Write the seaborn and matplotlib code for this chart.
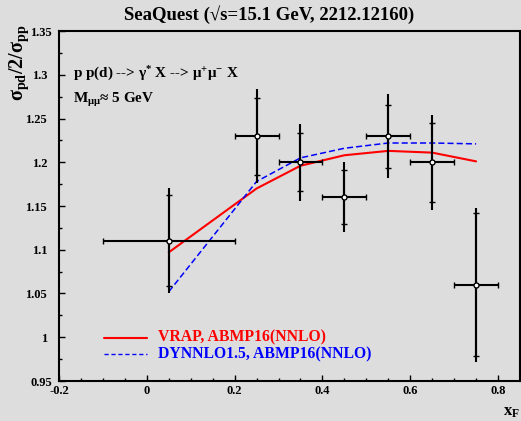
import numpy as np
import pandas as pd
import matplotlib
matplotlib.use("Agg")
import matplotlib.pyplot as plt
import matplotlib.transforms as mtransforms
from matplotlib.ticker import MultipleLocator
import seaborn as sns

# ---- data ----
xF = [0.05, 0.25, 0.35, 0.45, 0.55, 0.65, 0.75]
ratio = [1.11, 1.23, 1.20, 1.16, 1.23, 1.20, 1.06]
stat_err = [0.052, 0.044, 0.033, 0.031, 0.036, 0.045, 0.082]
tot_err = [0.060, 0.054, 0.044, 0.040, 0.048, 0.054, 0.088]
xerr_lo = [0.15, 0.05, 0.05, 0.05, 0.05, 0.05, 0.05]
xerr_hi = [0.15, 0.05, 0.05, 0.05, 0.05, 0.05, 0.05]

vrap = [1.097, 1.170, 1.196, 1.208, 1.213, 1.211, 1.201]
dynnlo = [1.052, 1.178, 1.205, 1.216, 1.222, 1.222, 1.221]

x_ticks = [-0.2, 0.0, 0.2, 0.4, 0.6, 0.8]
x_ticklabels = ["-0.2", "0", "0.2", "0.4", "0.6", "0.8"]
y_ticks = [0.95, 1.0, 1.05, 1.1, 1.15, 1.2, 1.25, 1.3, 1.35]
y_ticklabels = ["0.95", "1", "1.05", "1.1", "1.15", "1.2", "1.25", "1.3", "1.35"]

title = "SeaQuest (\u221as=15.1 GeV, 2212.12160)"
legend_labels = ["VRAP, ABMP16(NNLO)", "DYNNLO1.5, ABMP16(NNLO)"]

BG = "#dddddd"
sns.set_style("ticks", {"axes.facecolor": BG, "figure.facecolor": BG,
                        "text.color": "black", "xtick.color": "black",
                        "ytick.color": "black", "axes.labelcolor": "black",
                        "axes.edgecolor": "black"})
plt.rcParams["font.family"] = ["Liberation Serif", "DejaVu Serif"]
plt.rcParams["font.weight"] = "bold"
plt.rcParams["text.color"] = "black"
plt.rcParams["mathtext.fontset"] = "custom"
plt.rcParams["mathtext.rm"] = "Liberation Serif:bold"
plt.rcParams["mathtext.bf"] = "Liberation Serif:bold"
plt.rcParams["mathtext.it"] = "Liberation Serif:bold:italic"

fig = plt.figure(figsize=(5.21, 4.21), dpi=100)
fig.patch.set_facecolor(BG)
ax = fig.add_axes([59 / 521, 1 - 381 / 421, 461 / 521, 350 / 421])
ax.set_facecolor(BG)

df = pd.DataFrame({"xF": xF, "vrap": vrap, "dynnlo": dynnlo})
sns.lineplot(data=df, x="xF", y="vrap", ax=ax, color="red", linewidth=1.5,
             legend=False)
sns.lineplot(data=df, x="xF", y="dynnlo", ax=ax, color="blue", linewidth=1.1,
             linestyle=(0, (4, 2)), legend=False)

# data points: full vertical extent (total error)
ax.errorbar(xF, ratio, yerr=tot_err, fmt="none", ecolor="black",
            elinewidth=1.5, capsize=0, zorder=5)
# stat error ticks + horizontal bins
ax.errorbar(xF, ratio, yerr=stat_err, xerr=[xerr_lo, xerr_hi], fmt="none",
            ecolor="black", elinewidth=1.5, capsize=2.2, capthick=1.0, zorder=5)
ax.plot(xF, ratio, "o", ms=3.6, mfc="white", mec="black", mew=1.0, zorder=6)

ax.set_xlim(-0.2, 0.85)
ax.set_ylim(0.95, 1.35)
ax.set_xticks(x_ticks)
ax.set_xticklabels(x_ticklabels)
ax.set_yticks(y_ticks)
ax.set_yticklabels(y_ticklabels)
ax.xaxis.set_minor_locator(MultipleLocator(0.05))
ax.yaxis.set_minor_locator(MultipleLocator(0.025))
ax.tick_params(which="both", direction="in", top=False, right=False,
               labelsize=9, width=1.0, color="black", labelcolor="black")
ax.tick_params(axis="x", pad=3)
ax.tick_params(axis="y", pad=8.5)
ax.tick_params(which="major", length=4)
ax.tick_params(which="minor", length=2.2)
for lab in ax.get_xticklabels() + ax.get_yticklabels():
    lab.set_fontweight("bold")
# ROOT shifts the extreme y labels towards the axis
ylabs = ax.get_yticklabels()
shift = mtransforms.ScaledTranslation(5 / 100, 0, fig.dpi_scale_trans)
for lab in (ylabs[0], ylabs[-1]):
    lab.set_transform(lab.get_transform() + shift)
for s in ax.spines.values():
    s.set_visible(True)
    s.set_linewidth(1.5)
    s.set_color("black")
ax.set_xlabel("")
ax.set_ylabel("")

fig.text(269 / 521, 1 - 15 / 421, title, ha="center", va="center",
         fontsize=13.5, fontweight="bold", color="black")
fig.text(19 / 521, 1 - 24 / 421, r"$\mathrm{σ_{pd}/2/σ_{pp}}$", rotation=90,
         ha="center", va="top", fontsize=14.5, fontweight="bold", color="black")
fig.text(511 / 521, 1 - 412 / 421, r"$\mathrm{x_F}$", ha="center",
         va="center", fontsize=12, fontweight="bold", color="black")

ax.text(0.030, 0.877, r"p p(d) --> $\mathrm{γ^{*}}$ X --> $\mathrm{μ^{+}μ^{-}}$ X",
        transform=ax.transAxes, ha="left", va="center", fontsize=10.9,
        fontweight="bold", color="black")
ax.text(0.030, 0.803, r"$\mathrm{M_{μμ}}$≈ 5 GeV",
        transform=ax.transAxes, ha="left", va="center", fontsize=10.9,
        fontweight="bold", color="black")

# in-plot legend
ax.plot([0.098, 0.191], [0.124, 0.124], transform=ax.transAxes, color="red",
        linewidth=1.5)
ax.text(0.215, 0.124, legend_labels[0], transform=ax.transAxes, color="red",
        ha="left", va="center", fontsize=11.3, fontweight="bold")
ax.plot([0.098, 0.191], [0.077, 0.077], transform=ax.transAxes, color="blue",
        linewidth=1.0, linestyle=(0, (3, 2)))
ax.text(0.215, 0.077, legend_labels[1], transform=ax.transAxes, color="blue",
        ha="left", va="center", fontsize=11.3, fontweight="bold")

fig.savefig("out.png", dpi=100, facecolor=BG)
